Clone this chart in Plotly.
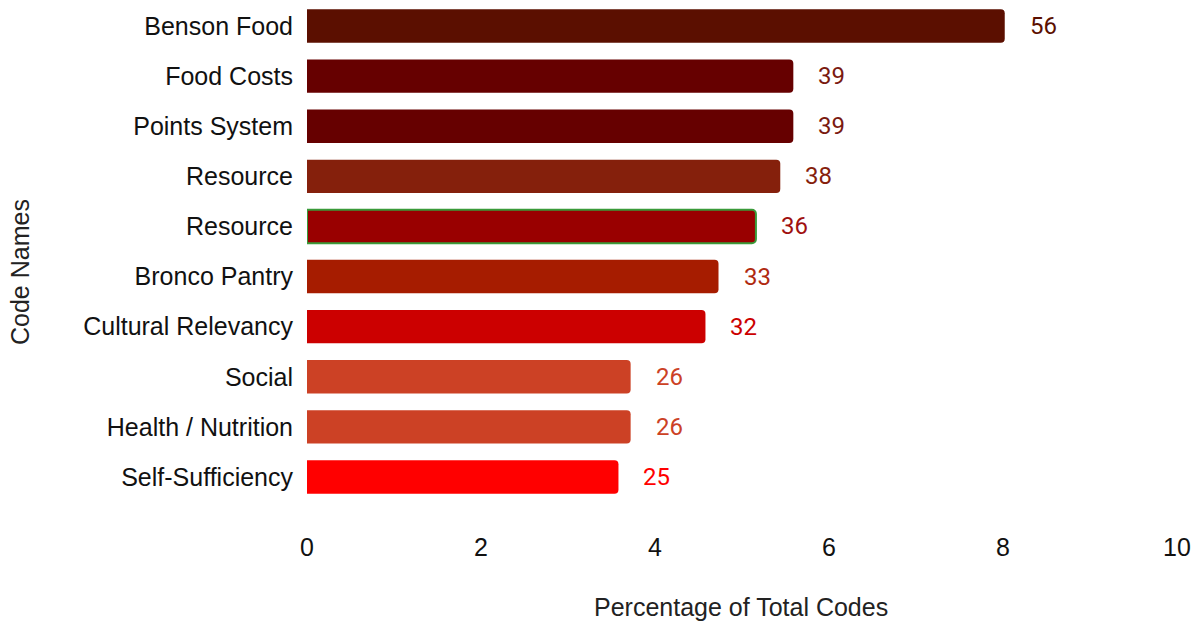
import plotly.graph_objects as go

categories = ["Benson Food", "Food Costs", "Points System", "Resource", "Resource",
              "Bronco Pantry", "Cultural Relevancy", "Social", "Health / Nutrition",
              "Self-Sufficiency"]
positions = list(range(len(categories)))
percentages = [8.02, 5.59, 5.59, 5.44, 5.16, 4.73, 4.58, 3.72, 3.72, 3.58]
counts = [56, 39, 39, 38, 36, 33, 32, 26, 26, 25]
colors = ["#5b0f00", "#660000", "#660000", "#85200c", "#990000",
          "#a61c00", "#cc0000", "#cc4125", "#cc4125", "#ff0000"]
label_colors = ["#5b0f00", "#7a1a10", "#7a1a10", "#85200c", "#a01010",
                "#b02a10", "#cc0000", "#cc4125", "#cc4125", "#ff0000"]
border_colors = ["rgba(0,0,0,0)"] * 4 + ["#3a9a3a"] + ["rgba(0,0,0,0)"] * 5
border_widths = [0, 0, 0, 0, 2, 0, 0, 0, 0, 0]
x_ticks = [0, 2, 4, 6, 8, 10]

fig = go.Figure()
fig.add_trace(go.Bar(
    x=percentages, y=positions, orientation="h",
    marker=dict(color=colors, line=dict(color=border_colors, width=border_widths)),
    width=0.667, hoverinfo="skip",
))

for pos, p, n, lc in zip(positions, percentages, counts, label_colors):
    fig.add_annotation(x=p, y=pos, xref="x", yref="y", text=str(n), showarrow=False,
                       xanchor="left", yanchor="middle", xshift=23,
                       font=dict(family="Roboto", size=24, color=lc))

fig.add_annotation(text="Code Names", textangle=-90, showarrow=False,
                   xref="paper", yref="paper", x=(20 - 307) / 870, y=(502 - 272) / 501,
                   xanchor="center", yanchor="middle",
                   font=dict(family="Liberation Sans", size=25, color="#222222"))
fig.add_annotation(text="Percentage of Total Codes", showarrow=False,
                   xref="paper", yref="paper", x=(741 - 307) / 870, y=(502 - 607) / 501,
                   xanchor="center", yanchor="middle",
                   font=dict(family="Liberation Sans", size=25, color="#222222"))

fig.update_layout(
    width=1200, height=621,
    margin=dict(l=307, r=23, t=1, b=119),
    paper_bgcolor="white", plot_bgcolor="white",
    barcornerradius=4,
    showlegend=False,
    font=dict(family="Liberation Sans", size=25, color="#111111"),
    xaxis=dict(range=[0, 10], tickvals=x_ticks, showgrid=False, zeroline=False,
               showline=False, ticks="outside", ticklen=23, tickcolor="rgba(0,0,0,0)",
               tickfont=dict(size=25, color="#111111")),
    yaxis=dict(autorange=False, range=[9.5, -0.5], tickvals=positions, ticktext=categories,
               showgrid=False, zeroline=False, showline=False,
               ticks="outside", ticklen=8, tickcolor="rgba(0,0,0,0)",
               tickfont=dict(size=25, color="#111111")),
)

fig.write_html("out.html")
